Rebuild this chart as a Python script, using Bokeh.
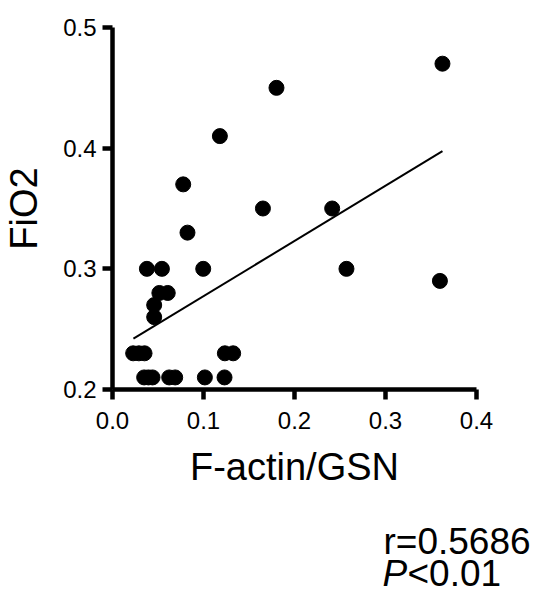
from bokeh.plotting import figure
from bokeh.models import Range1d, FixedTicker, Spacer
from bokeh.layouts import column, row
from bokeh.core.properties import value
from bokeh.embed import file_html
from bokeh.resources import INLINE

# Data
fact_gsn = [0.3626, 0.1802, 0.118, 0.0777, 0.1653, 0.2414, 0.0824,
            0.0378, 0.0543, 0.0997, 0.2571, 0.3598,
            0.0515, 0.0607, 0.0458, 0.0458,
            0.0227, 0.029, 0.0352, 0.1235, 0.1326,
            0.0348, 0.0395, 0.044, 0.0623, 0.0689, 0.1015, 0.1231]
fio2 = [0.47, 0.45, 0.41, 0.37, 0.35, 0.35, 0.33,
        0.30, 0.30, 0.30, 0.30, 0.29,
        0.28, 0.28, 0.27, 0.26,
        0.23, 0.23, 0.23, 0.23, 0.23,
        0.21, 0.21, 0.21, 0.21, 0.21, 0.21, 0.21]
fit_x = [0.023, 0.3626]
fit_y = [0.2421, 0.3975]
x_ticks = [0.0, 0.1, 0.2, 0.3, 0.4]
y_ticks = [0.2, 0.3, 0.4, 0.5]
x_label = "F-actin/GSN"
y_label = "FiO2"
r_text = "r=0.5686"
p_italic = "P"
p_rest = "<0.01"

FONT = "Liberation Sans"
LEFT, TOP, FW, FH, BOTTOM = 112, 27, 364, 362, 130
W = 546
P_H = TOP + FH + BOTTOM
T_H = 592 - P_H
SX = 360

p = figure(frame_width=FW, frame_height=FH,
           min_border_left=LEFT, min_border_right=W - LEFT - FW,
           min_border_top=TOP, min_border_bottom=BOTTOM,
           x_range=Range1d(0, 0.4), y_range=Range1d(0.2, 0.5),
           output_backend="svg", toolbar_location=None,
           background_fill_color="white", border_fill_color="white")
p.outline_line_color = None
p.grid.visible = False

for ax in (p.xaxis[0], p.yaxis[0]):
    ax.axis_line_width = 4.5
    ax.axis_line_color = "black"
    ax.major_tick_line_width = 4.5
    ax.major_tick_line_color = "black"
    ax.major_tick_out = 10
    ax.major_tick_in = 0
    ax.minor_tick_line_color = None
    ax.major_label_text_font = FONT
    ax.major_label_text_font_size = "24px"
    ax.major_label_text_color = "black"
    ax.axis_label_text_font = FONT
    ax.axis_label_text_font_size = "38px"
    ax.axis_label_text_font_style = "normal"
    ax.axis_label_text_color = "black"

p.xaxis[0].ticker = FixedTicker(ticks=x_ticks)
p.yaxis[0].ticker = FixedTicker(ticks=y_ticks)
p.xaxis[0].major_label_overrides = {t: f"{t:.1f}" for t in x_ticks}
p.yaxis[0].major_label_overrides = {t: f"{t:.1f}" for t in y_ticks}
p.xaxis[0].major_label_standoff = 12
p.yaxis[0].major_label_standoff = 6
p.xaxis[0].axis_label = x_label
p.yaxis[0].axis_label = y_label
p.xaxis[0].axis_label_standoff = 14
p.yaxis[0].axis_label_standoff = 15

p.line(fit_x, fit_y, line_color="black", line_width=2)
p.scatter(fact_gsn, fio2, size=15, color="black")

# Text panel below the chart (pixel coordinates, y downward)
TW = W - SX
t = figure(width=TW, height=T_H, x_range=Range1d(0, TW), y_range=Range1d(T_H, 0),
           min_border=0, output_backend="svg", toolbar_location=None,
           title_location=None,
           background_fill_color="white", border_fill_color="white")
t.axis.visible = False
t.grid.visible = False
t.outline_line_color = None

def tx(px):
    return px - SX

def ty(py):
    return py - P_H

t.text(x=[tx(383)], y=[ty(541)], text=[r_text], text_font=value(FONT),
       text_font_size="37px", text_color="black", text_baseline="alphabetic")
t.text(x=[tx(382)], y=[ty(573)], text=[p_italic], text_font=value(FONT),
       text_font_size="37px", text_font_style="italic", text_color="black",
       text_baseline="alphabetic")
t.text(x=[tx(382) + 25], y=[ty(573)], text=[p_rest], text_font=value(FONT),
       text_font_size="37px", text_color="black", text_baseline="alphabetic")

layout = column(p, row(Spacer(width=SX, height=T_H), t, spacing=0), spacing=0)
open("out.html", "w").write(file_html(layout, INLINE))
